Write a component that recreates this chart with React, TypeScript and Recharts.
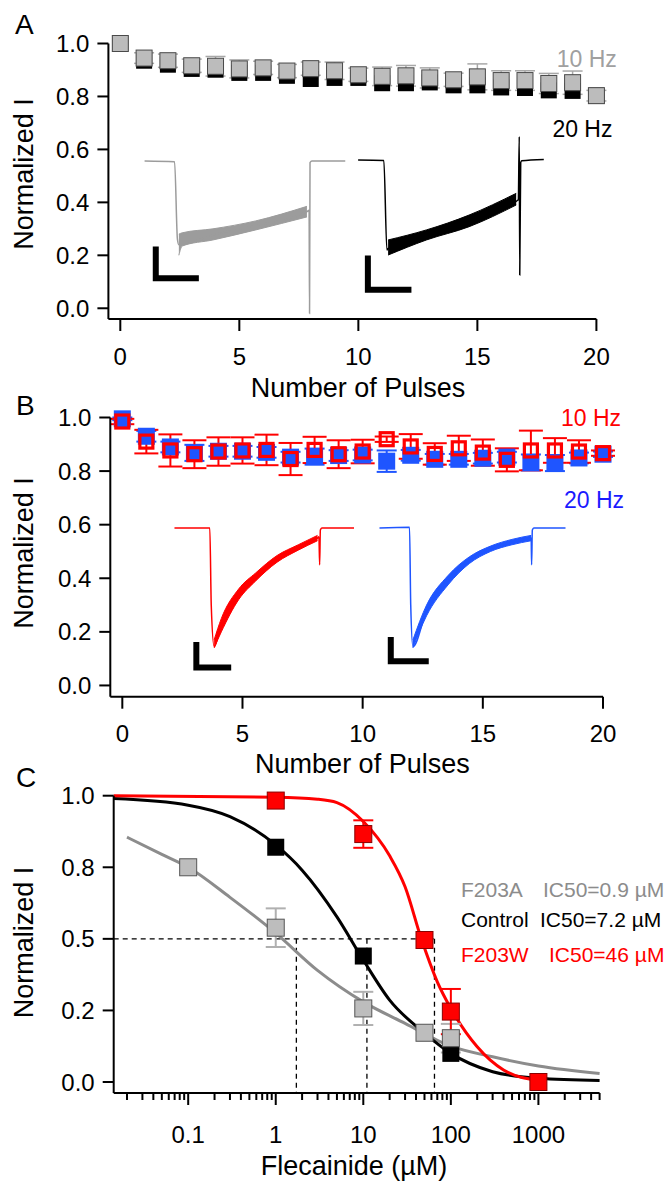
import React from "react";
import {
  Area,
  ComposedChart,
  ErrorBar,
  Label,
  Line,
  ReferenceLine,
  Scatter,
  XAxis,
  YAxis,
} from "recharts";

// ----------------------------- Data -----------------------------
const pulses = [0, 1, 2, 3, 4, 5, 6, 7, 8, 9, 10, 11, 12, 13, 14, 15, 16, 17, 18, 19, 20];
const pulseTicks = [0, 5, 10, 15, 20];
const normTicks = [0, 0.2, 0.4, 0.6, 0.8, 1.0];

// panel A (control)
const tenHzA = [1.0, 0.945, 0.935, 0.916, 0.914, 0.904, 0.908, 0.896, 0.905, 0.897, 0.882, 0.876, 0.878, 0.87, 0.863, 0.874, 0.86, 0.86, 0.849, 0.852, 0.803];
const tenHzAErr = [0, 0.02, 0.025, 0.025, 0.037, 0.034, 0.025, 0.025, 0.025, 0.033, 0.025, 0.035, 0.039, 0.038, 0.025, 0.049, 0.037, 0.037, 0.038, 0.044, 0.02];
const twentyHzA = [1.0, 0.935, 0.92, 0.904, 0.901, 0.889, 0.889, 0.878, 0.866, 0.87, 0.87, 0.85, 0.85, 0.853, 0.842, 0.842, 0.834, 0.832, 0.823, 0.821, 0.803];

// current traces, [x, y]
const grayTraceA: [number, number][] = [
  [1.02, 0.556], [2.28, 0.553], [2.4, 0.26], [2.46, 0.24], [3.89, 0.278], [5.69, 0.312],
  [7.84, 0.365], [7.93, 0.37], [7.95, -0.02], [7.97, 0.55], [8.05, 0.556], [9.45, 0.556],
];
const grayBandA: [number, number, number][] = [
  [2.46, 0.2, 0.28], [2.6, 0.235, 0.285], [3.89, 0.258, 0.3], [5.69, 0.296, 0.33], [7.84, 0.345, 0.385],
];
const blackTraceA: [number, number][] = [
  [9.99, 0.56], [11.07, 0.558], [11.2, 0.22], [11.25, 0.225], [12.86, 0.277], [14.65, 0.33],
  [16.72, 0.41], [16.76, 0.648], [16.78, 0.126], [16.82, 0.55], [16.86, 0.557], [17.79, 0.562],
];
const blackBandA: [number, number, number][] = [
  [11.25, 0.201, 0.258], [12.86, 0.258, 0.296], [14.65, 0.308, 0.352], [16.63, 0.39, 0.434],
];
const scaleBarA1: [number, number][] = [[1.49, 0.233], [1.49, 0.113], [3.3, 0.113]];
const scaleBarA2: [number, number][] = [[10.4, 0.199], [10.4, 0.07], [12.23, 0.07]];

// panel B (mutant)
const tenHzB = [0.985, 0.91, 0.877, 0.863, 0.873, 0.877, 0.879, 0.845, 0.879, 0.863, 0.873, 0.919, 0.892, 0.864, 0.885, 0.869, 0.842, 0.877, 0.877, 0.873, 0.867];
const tenHzBErr = [0.01, 0.044, 0.06, 0.052, 0.053, 0.049, 0.057, 0.06, 0.049, 0.052, 0.044, 0.01, 0.046, 0.04, 0.047, 0.049, 0.043, 0.074, 0.046, 0.042, 0.01];
const twentyHzB = [0.995, 0.93, 0.89, 0.868, 0.874, 0.874, 0.87, 0.852, 0.854, 0.858, 0.86, 0.837, 0.859, 0.844, 0.844, 0.848, 0.852, 0.832, 0.83, 0.849, 0.863];
const twentyHzBErr = [0.005, 0.02, 0.02, 0.03, 0.02, 0.02, 0.02, 0.02, 0.03, 0.02, 0.02, 0.04, 0.02, 0.02, 0.02, 0.02, 0.02, 0.03, 0.03, 0.02, 0.01];

const redTraceB: [number, number][] = [
  [2.17, 0.588], [3.64, 0.588], [3.7, 0.3], [3.82, 0.145], [4.12, 0.225], [4.84, 0.34], [5.55, 0.405],
  [6.44, 0.472], [7.32, 0.515], [8.12, 0.55], [8.18, 0.555], [8.21, 0.45], [8.24, 0.58], [8.3, 0.588], [9.64, 0.588],
];
const redBandB: [number, number, number][] = [
  [3.82, 0.14, 0.17], [4.12, 0.2, 0.25], [4.84, 0.32, 0.36], [5.55, 0.39, 0.42], [6.44, 0.46, 0.485], [7.32, 0.505, 0.525], [8.12, 0.54, 0.56],
];
const blueTraceB: [number, number][] = [
  [10.7, 0.588], [11.95, 0.59], [12.0, 0.3], [12.09, 0.145], [12.66, 0.28], [13.55, 0.392], [14.44, 0.468],
  [15.32, 0.51], [16.21, 0.535], [17.01, 0.55], [17.03, 0.45], [17.06, 0.58], [17.12, 0.588], [18.44, 0.588],
];
const blueBandB: [number, number, number][] = [
  [12.09, 0.14, 0.17], [12.66, 0.26, 0.3], [13.55, 0.375, 0.41], [14.44, 0.455, 0.48], [15.32, 0.5, 0.52], [16.21, 0.525, 0.545], [17.01, 0.54, 0.56],
];
const scaleBarB1: [number, number][] = [[3.08, 0.162], [3.08, 0.067], [4.53, 0.067]];
const scaleBarB2: [number, number][] = [[11.17, 0.181], [11.17, 0.09], [12.75, 0.09]];

// panel C (dose response)
const f203aConc = [0.1, 1, 10, 50, 100];
const f203aI = [0.75, 0.539, 0.257, 0.172, 0.153];
const f203aErr = [0, 0.0675, 0.058, 0, 0.05];
const controlConc = [1, 10, 100];
const controlI = [0.82, 0.44, 0.1];
const f203wConc = [1, 10, 50, 100, 1000];
const f203wI = [0.983, 0.866, 0.496, 0.246, 0.0];
const f203wErr = [0, 0.048, 0, 0.079, 0];

const f203aFitX = [0.02, 0.05, 0.1, 0.3, 1, 3, 10, 30, 100, 300, 1000, 5000];
const f203aFitY = [0.855, 0.795, 0.75, 0.645, 0.52, 0.39, 0.28, 0.205, 0.125, 0.088, 0.056, 0.03];
const controlFitX = [0.0141, 0.1, 0.3, 1, 2, 5, 10, 20, 50, 100, 300, 1000, 5000];
const controlFitY = [0.99, 0.967, 0.927, 0.828, 0.74, 0.577, 0.426, 0.286, 0.171, 0.1, 0.036, 0.013, 0.005];
const f203wFitX = [0.0141, 1, 3, 5, 10, 20, 30, 46, 70, 100, 200, 400, 1000];
const f203wFitY = [1.0, 0.995, 0.988, 0.976, 0.91, 0.79, 0.682, 0.5, 0.35, 0.257, 0.123, 0.042, 0.005];

const halfLevel = 0.5;
const dropLines = [1.72, 11, 65];

const fleMajor = [0.1, 1, 10, 100, 1000];
const fleMajorLabels = ["0.1", "1", "10", "100", "1000"];
const fleMantissa = [2, 3, 4, 5, 6, 7, 8, 9];
const fleDecades = [0.01, 0.1, 1, 10, 100, 1000];
const yTicksC = [0, 0.25, 0.5, 0.75, 1];
const yTickLabelsC = ["0.0", "0.2", "0.5", "0.8", "1.0"];

// ----------------------------- Helpers -----------------------------
const FONT = "'Liberation Sans', Arial, Helvetica, sans-serif";
const W = 669;

const pts = (xs: number[], ys: number[], err?: number[]) =>
  xs.map((x, i) => ({ x, y: ys[i], err: err ? err[i] : 0 }));
const pairs = (p: [number, number][]) => p.map(([x, y]) => ({ x, y }));
const band = (p: [number, number, number][]) => p.map(([x, lo, hi]) => ({ x, band: [lo, hi] }));

const fleMinor = fleDecades
  .flatMap((d) => fleMantissa.map((m) => +(m * d).toPrecision(3)))
  .filter((v) => v <= 5000);
const fleTicks = [...fleMinor, ...fleMajor].sort((a, b) => a - b);

const square = (size: number, fill: string, stroke = "none", sw = 0) => (p: any) => (
  <rect x={p.cx - size / 2} y={p.cy - size / 2} width={size} height={size} fill={fill} stroke={stroke} strokeWidth={sw} />
);
const noMark = () => <g />;

const axisLine = { stroke: "#000", strokeWidth: 2 };
const tickStyle = { fontSize: 24, fill: "#000", fontFamily: FONT };

const yTitle = (cy: number) => () => (
  <text x={33} y={cy} transform={`rotate(-90 33 ${cy})`} textAnchor="middle" fontSize={27} fontFamily={FONT} fill="#000">
    Normalized I
  </text>
);
const xTitle = (cx: number, by: number, txt: string) => () => (
  <text x={cx} y={by} textAnchor="middle" fontSize={27} fontFamily={FONT} fill="#000">
    {txt}
  </text>
);

const LogTick = (p: any) => {
  const v = p.payload.value;
  const i = fleMajor.indexOf(v);
  return (
    <g>
      <line x1={p.x} x2={p.x} y1={p.y} y2={p.y + (i >= 0 ? 12 : 7)} stroke="#000" strokeWidth={2} />
      {i >= 0 && (
        <text x={p.x} y={p.y + 49.7} textAnchor="middle" fontSize={24} fontFamily={FONT} fill="#000">
          {fleMajorLabels[i]}
        </text>
      )}
    </g>
  );
};

const traceLine = (data: [number, number][], color: string, w = 1.5) => (
  <Line data={pairs(data)} dataKey="y" type="monotone" stroke={color} strokeWidth={w} dot={false} activeDot={false} isAnimationActive={false} />
);
const traceBand = (data: [number, number, number][], color: string) => (
  <Area data={band(data)} dataKey="band" type="monotone" stroke={color} strokeWidth={1} fill={color} fillOpacity={1} dot={false} activeDot={false} isAnimationActive={false} />
);
const scaleBar = (data: [number, number][]) => (
  <Line data={pairs(data)} dataKey="y" type="linear" stroke="#000" strokeWidth={6} dot={false} activeDot={false} isAnimationActive={false} />
);
// error bars only (drawn beneath the square markers)
const errors = (data: any[], color: string, width: number, sw: number) => (
  <Scatter data={data} dataKey="y" shape={noMark} isAnimationActive={false}>
    <ErrorBar dataKey="err" direction="y" width={width} stroke={color} strokeWidth={sw} isAnimationActive={false} />
  </Scatter>
);

// ----------------------------- Panels -----------------------------
function PanelA() {
  const ten = pts(pulses, tenHzA, tenHzAErr);
  return (
    <ComposedChart width={W} height={412} margin={{ top: 43.5, right: 72.6, bottom: 0, left: 0 }}>
      <XAxis type="number" dataKey="x" domain={[-0.5, 20]} ticks={pulseTicks} interval={0}
        axisLine={axisLine} tickLine={axisLine} tickSize={12} tickMargin={17} tick={tickStyle} height={93}>
        <Label content={xTitle(358, 397, "Number of Pulses")} />
      </XAxis>
      <YAxis type="number" dataKey="y" domain={[-0.0405, 1]} ticks={normTicks} interval={0}
        tickFormatter={(v: number) => v.toFixed(1)} axisLine={axisLine} tickLine={axisLine} tickSize={11} tickMargin={8}
        tick={tickStyle} width={108.4}>
        <Label content={yTitle(174)} />
      </YAxis>
      {traceBand(grayBandA, "#9c9c9c")}
      {traceLine(grayTraceA, "#9c9c9c")}
      {traceBand(blackBandA, "#000")}
      {traceLine(blackTraceA, "#000")}
      {scaleBar(scaleBarA1)}
      {scaleBar(scaleBarA2)}
      <Scatter data={pts(pulses, twentyHzA)} dataKey="y" shape={square(16, "#000")} isAnimationActive={false} />
      {errors(ten, "#a8a8a8", 10, 1.5)}
      <Scatter data={ten} dataKey="y" shape={square(16, "#bcbcbc", "#4a4a4a", 1)} isAnimationActive={false} />
    </ComposedChart>
  );
}

function PanelB() {
  const twenty = pts(pulses, twentyHzB, twentyHzBErr);
  const ten = pts(pulses, tenHzB, tenHzBErr);
  return (
    <ComposedChart width={W} height={390} margin={{ top: 22.5, right: 66, bottom: 0, left: 0 }}>
      <XAxis type="number" dataKey="x" domain={[-0.5, 20]} ticks={pulseTicks} interval={0}
        axisLine={axisLine} tickLine={axisLine} tickSize={12} tickMargin={16} tick={tickStyle} height={88.3}>
        <Label content={xTitle(362.4, 377.7, "Number of Pulses")} />
      </XAxis>
      <YAxis type="number" dataKey="y" domain={[-0.042, 1]} ticks={normTicks} interval={0}
        tickFormatter={(v: number) => v.toFixed(1)} axisLine={axisLine} tickLine={axisLine} tickSize={11} tickMargin={8}
        tick={tickStyle} width={110.3}>
        <Label content={yTitle(158)} />
      </YAxis>
      {traceBand(redBandB, "#ff0000")}
      {traceLine(redTraceB, "#ff0000")}
      {traceBand(blueBandB, "#1f55ff")}
      {traceLine(blueTraceB, "#1f55ff")}
      {scaleBar(scaleBarB1)}
      {scaleBar(scaleBarB2)}
      {errors(twenty, "#1f55ff", 10, 2)}
      <Scatter data={twenty} dataKey="y" shape={square(17, "#1f55ff")} isAnimationActive={false} />
      {errors(ten, "#ff0000", 12, 2)}
      <Scatter data={ten} dataKey="y" shape={square(13, "none", "#ff0000", 3.2)} isAnimationActive={false} />
    </ComposedChart>
  );
}

function PanelC() {
  const a = pts(f203aConc, f203aI, f203aErr);
  const w = pts(f203wConc, f203wI, f203wErr);
  return (
    <ComposedChart width={W} height={413} margin={{ top: 25.7, right: 69.4, bottom: 0, left: 0 }}>
      <XAxis type="number" dataKey="x" scale="log" domain={[0.0141, 5000]} ticks={fleTicks} interval={0}
        axisLine={axisLine} tickLine={false} tickSize={0} tickMargin={0} tick={<LogTick />} height={90}>
        <Label content={xTitle(354, 405, "Flecainide (\u00b5M)")} />
      </XAxis>
      <YAxis type="number" dataKey="y" domain={[-0.0384, 1]} ticks={yTicksC} interval={0}
        tickFormatter={(v: number) => yTickLabelsC[yTicksC.indexOf(v)]} axisLine={axisLine} tickLine={axisLine}
        tickSize={11} tickMargin={8} tick={tickStyle} width={113.7}>
        <Label content={yTitle(172.5)} />
      </YAxis>
      <ReferenceLine segment={[{ x: 0.0141, y: halfLevel }, { x: dropLines[2], y: halfLevel }]} stroke="#000" strokeWidth={1.3} strokeDasharray="5 4" ifOverflow="visible" />
      {dropLines.map((c) => (
        <ReferenceLine key={c} segment={[{ x: c, y: halfLevel }, { x: c, y: -0.0384 }]} stroke="#000" strokeWidth={1.3} strokeDasharray="5 4" ifOverflow="visible" />
      ))}
      <Line data={pts(f203aFitX, f203aFitY)} dataKey="y" type="monotone" stroke="#8c8c8c" strokeWidth={3} dot={false} activeDot={false} isAnimationActive={false} />
      <Line data={pts(controlFitX, controlFitY)} dataKey="y" type="monotone" stroke="#000" strokeWidth={3} dot={false} activeDot={false} isAnimationActive={false} />
      <Line data={pts(f203wFitX, f203wFitY)} dataKey="y" type="monotone" stroke="#ff0000" strokeWidth={3} dot={false} activeDot={false} isAnimationActive={false} />
      <Scatter data={pts(controlConc, controlI)} dataKey="y" shape={square(17, "#000")} isAnimationActive={false} />
      {errors(a, "#b0b0b0", 10, 2)}
      <Scatter data={a} dataKey="y" shape={square(17, "#bdbdbd", "#555", 1)} isAnimationActive={false} />
      {errors(w, "#ff0000", 10, 2)}
      <Scatter data={w} dataKey="y" shape={square(17, "#ff0000", "#8a0000", 1)} isAnimationActive={false} />
    </ComposedChart>
  );
}

// ----------------------------- Page -----------------------------
export default function App() {
  const t = (x: number, y: number, s: string, fill: string, size: number) => (
    <text x={x} y={y} fill={fill} fontSize={size} fontFamily={FONT}>{s}</text>
  );
  return (
    <div style={{ position: "absolute", left: 0, top: 0, width: W, height: 1183, background: "#fff", overflow: "hidden" }}>
      <div style={{ position: "absolute", left: 0, top: 0 }}><PanelA /></div>
      <div style={{ position: "absolute", left: 0, top: 395 }}><PanelB /></div>
      <div style={{ position: "absolute", left: 0, top: 770 }}><PanelC /></div>
      <svg width={W} height={1183} style={{ position: "absolute", left: 0, top: 0, pointerEvents: "none" }}>
        {t(15, 34.3, "A", "#000", 28)}
        {t(16, 415, "B", "#000", 28)}
        {t(16, 786.7, "C", "#000", 28)}
        {t(556.7, 66.7, "10 Hz", "#a0a0a0", 23)}
        {t(552.4, 136.7, "20 Hz", "#000", 23)}
        {t(561, 425.7, "10 Hz", "#ff0000", 23)}
        {t(564, 508.3, "20 Hz", "#1a1aff", 23)}
        {t(461, 896.7, "F203A", "#8c8c8c", 21)}
        {t(543, 896.7, "IC50=0.9 \u00b5M", "#8c8c8c", 21)}
        {t(461, 926.7, "Control", "#000", 21)}
        {t(540, 926.7, "IC50=7.2 \u00b5M", "#000", 21)}
        {t(461, 961.7, "F203W", "#ff0000", 21)}
        {t(549, 961.7, "IC50=46 \u00b5M", "#ff0000", 21)}
      </svg>
    </div>
  );
}
